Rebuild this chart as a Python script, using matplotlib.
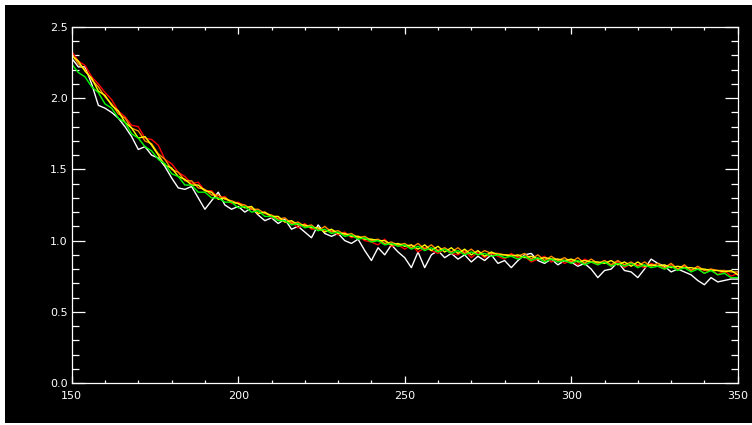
import matplotlib
matplotlib.use("Agg")
import matplotlib.pyplot as plt
import matplotlib.patches as mpatches
import numpy as np
from matplotlib.ticker import MultipleLocator, FormatStrFormatter

plt.rcParams.update({"font.family": "DejaVu Sans", "font.size": 8})

# x samples (every 2 units)
x = np.arange(150, 351, 2)

white = [2.28, 2.22, 2.22, 2.10, 1.95, 1.93, 1.90, 1.86, 1.80, 1.73,
         1.64, 1.66, 1.60, 1.58, 1.52, 1.44, 1.37, 1.36, 1.38, 1.30,
         1.22, 1.28, 1.34, 1.25, 1.22, 1.24, 1.20, 1.23, 1.18, 1.14,
         1.16, 1.12, 1.15, 1.08, 1.10, 1.06, 1.02, 1.11, 1.05, 1.03,
         1.05, 1.00, 0.98, 1.01, 0.93, 0.86, 0.95, 0.90, 0.97, 0.92,
         0.88, 0.81, 0.92, 0.81, 0.90, 0.93, 0.88, 0.91, 0.87, 0.90,
         0.85, 0.89, 0.86, 0.90, 0.84, 0.86, 0.81, 0.86, 0.90, 0.91,
         0.86, 0.84, 0.87, 0.83, 0.86, 0.85, 0.82, 0.84, 0.80, 0.74,
         0.79, 0.80, 0.85, 0.79, 0.78, 0.74, 0.80, 0.87, 0.84, 0.82,
         0.78, 0.80, 0.78, 0.76, 0.72, 0.69, 0.74, 0.71, 0.72, 0.73,
         0.73]

red = [2.33, 2.26, 2.23, 2.15, 2.10, 2.04, 1.99, 1.91, 1.87, 1.81,
       1.80, 1.72, 1.71, 1.67, 1.57, 1.54, 1.48, 1.45, 1.40, 1.41,
       1.35, 1.35, 1.30, 1.31, 1.26, 1.27, 1.24, 1.23, 1.19, 1.20,
       1.16, 1.16, 1.13, 1.13, 1.09, 1.12, 1.08, 1.08, 1.07, 1.07,
       1.04, 1.06, 1.02, 1.03, 1.00, 0.99, 0.97, 1.01, 0.96, 0.97,
       0.94, 0.97, 0.92, 0.95, 0.93, 0.91, 0.94, 0.91, 0.90, 0.93,
       0.88, 0.92, 0.88, 0.91, 0.89, 0.87, 0.91, 0.88, 0.89, 0.85,
       0.87, 0.89, 0.85, 0.87, 0.84, 0.86, 0.83, 0.87, 0.85, 0.83,
       0.86, 0.82, 0.85, 0.81, 0.84, 0.83, 0.81, 0.84, 0.82, 0.80,
       0.83, 0.80, 0.82, 0.79, 0.81, 0.77, 0.80, 0.76, 0.79, 0.75,
       0.77]

orange = [2.31, 2.24, 2.20, 2.13, 2.08, 2.01, 1.96, 1.89, 1.86, 1.79,
          1.77, 1.70, 1.68, 1.61, 1.57, 1.50, 1.48, 1.42, 1.42, 1.37,
          1.36, 1.32, 1.32, 1.29, 1.28, 1.26, 1.25, 1.22, 1.22, 1.19,
          1.18, 1.15, 1.16, 1.12, 1.13, 1.10, 1.11, 1.07, 1.10, 1.06,
          1.07, 1.04, 1.05, 1.02, 1.03, 1.00, 1.01, 0.98, 0.99, 0.97,
          0.98, 0.95, 0.98, 0.94, 0.97, 0.93, 0.95, 0.92, 0.95, 0.91,
          0.94, 0.90, 0.93, 0.91, 0.91, 0.90, 0.90, 0.89, 0.91, 0.87,
          0.90, 0.86, 0.89, 0.86, 0.88, 0.85, 0.88, 0.84, 0.87, 0.84,
          0.86, 0.83, 0.86, 0.83, 0.85, 0.82, 0.85, 0.82, 0.84, 0.81,
          0.84, 0.80, 0.83, 0.79, 0.82, 0.79, 0.80, 0.79, 0.79, 0.78,
          0.78]

yellow = [2.30, 2.26, 2.19, 2.14, 2.05, 2.02, 1.95, 1.91, 1.83, 1.79,
          1.72, 1.73, 1.67, 1.60, 1.53, 1.51, 1.45, 1.43, 1.39, 1.39,
          1.35, 1.34, 1.29, 1.30, 1.27, 1.26, 1.23, 1.24, 1.19, 1.20,
          1.17, 1.17, 1.13, 1.14, 1.11, 1.11, 1.09, 1.09, 1.06, 1.08,
          1.05, 1.05, 1.03, 1.03, 1.01, 1.01, 1.00, 1.00, 0.97, 0.98,
          0.96, 0.97, 0.94, 0.97, 0.93, 0.96, 0.92, 0.95, 0.91, 0.94,
          0.90, 0.93, 0.89, 0.92, 0.90, 0.90, 0.89, 0.90, 0.88, 0.89,
          0.87, 0.88, 0.87, 0.87, 0.86, 0.87, 0.85, 0.86, 0.85, 0.85,
          0.84, 0.86, 0.83, 0.85, 0.82, 0.85, 0.82, 0.83, 0.82, 0.83,
          0.81, 0.82, 0.81, 0.81, 0.80, 0.80, 0.79, 0.79, 0.78, 0.79,
          0.76]

green = [2.24, 2.18, 2.15, 2.08, 2.04, 1.96, 1.93, 1.86, 1.83, 1.75,
         1.72, 1.66, 1.63, 1.57, 1.54, 1.47, 1.45, 1.39, 1.39, 1.34,
         1.34, 1.30, 1.30, 1.27, 1.27, 1.23, 1.24, 1.20, 1.21, 1.17,
         1.17, 1.14, 1.14, 1.11, 1.12, 1.09, 1.10, 1.07, 1.08, 1.05,
         1.06, 1.03, 1.04, 1.01, 1.02, 0.99, 1.00, 0.97, 0.98, 0.96,
         0.97, 0.94, 0.96, 0.93, 0.95, 0.92, 0.94, 0.91, 0.93, 0.90,
         0.92, 0.90, 0.91, 0.89, 0.90, 0.88, 0.89, 0.87, 0.89, 0.86,
         0.88, 0.85, 0.87, 0.85, 0.86, 0.84, 0.86, 0.83, 0.85, 0.83,
         0.85, 0.82, 0.84, 0.82, 0.84, 0.81, 0.83, 0.81, 0.82, 0.80,
         0.82, 0.79, 0.81, 0.78, 0.80, 0.77, 0.79, 0.76, 0.77, 0.74,
         0.74]

series = [("white", white), ("#ff0000", red), ("#ff8c00", orange),
          ("#ffff00", yellow), ("#00ff00", green)]

W, H = 752, 425
fig = plt.figure(figsize=(W / 100, H / 100), dpi=100, facecolor="white")
# black plotting window (thin white margin at top/left/bottom)
fig.patches.append(mpatches.Rectangle((5 / W, 2 / H), 1 - 5 / W, 1 - 7 / H,
                                      transform=fig.transFigure,
                                      facecolor="black", edgecolor="none", zorder=-10))

ax = fig.add_axes([71.7 / W, 1 - 383 / H, 666 / W, 356 / H])
ax.set_zorder(1)
ax.set_facecolor("black")

for col, vals in series:
    ax.plot(x, vals, color=col, linewidth=1.0)

ax.set_xlim(150, 350)
ax.set_ylim(0, 2.5)
ax.xaxis.set_major_locator(MultipleLocator(50))
ax.xaxis.set_minor_locator(MultipleLocator(10))
ax.yaxis.set_major_locator(MultipleLocator(0.5))
ax.yaxis.set_minor_locator(MultipleLocator(0.1))
ax.yaxis.set_major_formatter(FormatStrFormatter("%.1f"))

for s in ax.spines.values():
    s.set_color("white")
    s.set_linewidth(0.9)

ax.tick_params(which="both", direction="in", colors="white",
               top=True, right=True, width=0.9, labelsize=8)
ax.tick_params(axis="x", which="major", length=5, pad=6)
ax.tick_params(axis="x", which="minor", length=2.5)
ax.tick_params(axis="y", which="major", length=9.5, pad=3)
ax.tick_params(axis="y", which="minor", length=4.8)

plt.savefig("out.png", dpi=100, facecolor="white")
plt.close()
